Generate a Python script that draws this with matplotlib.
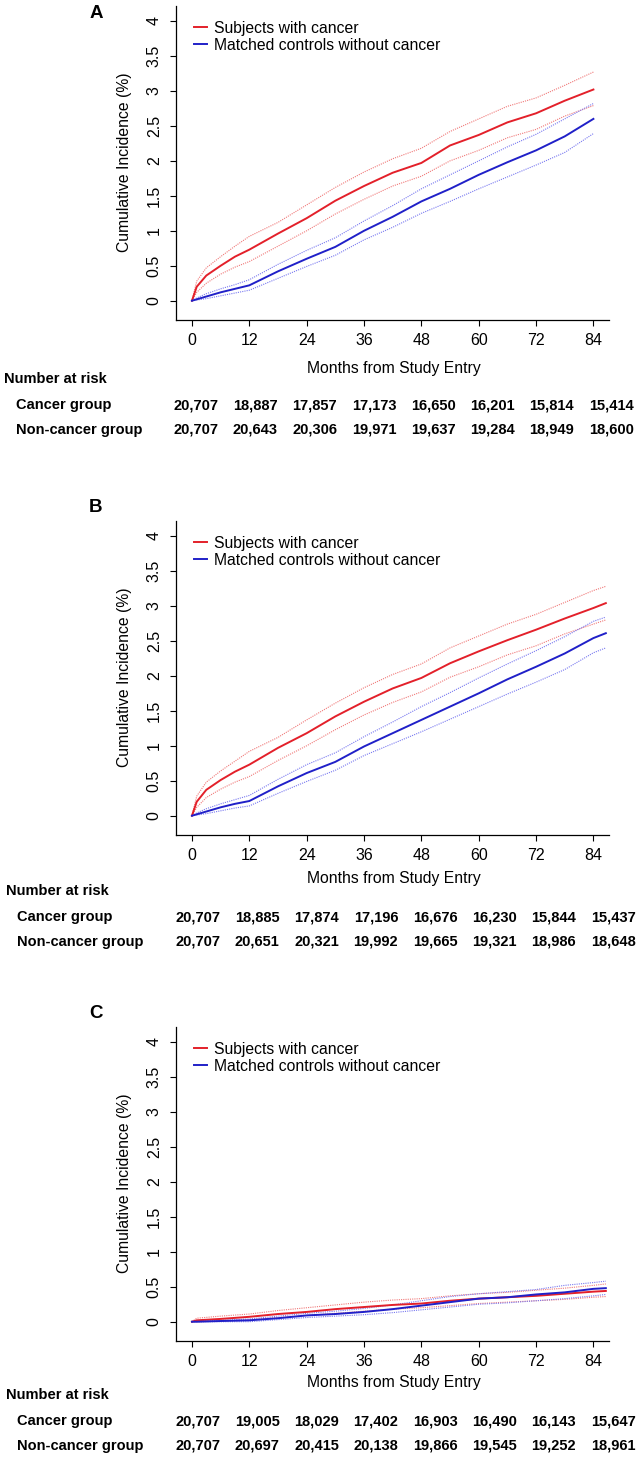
import matplotlib
matplotlib.use("Agg")
import matplotlib.pyplot as plt

plt.rcParams['font.family'] = ['Liberation Sans', 'DejaVu Sans']

W, H = 638, 1458

# ---- data ----
months_ab = [0, 1, 3, 6, 9, 12, 18, 24, 30, 36, 42, 48, 54, 60, 66, 72, 78, 84]
months_b = months_ab + [86.6]
months_c = [0, 1, 6, 12, 18, 24, 30, 36, 42, 48, 54, 60, 66, 72, 78, 84, 86.6]

a_red = [0, 0.2, 0.36, 0.5, 0.63, 0.73, 0.96, 1.18, 1.43, 1.64, 1.83, 1.97, 2.22, 2.37, 2.55, 2.68, 2.86, 3.02]
a_red_hi = [0, 0.28, 0.47, 0.63, 0.78, 0.92, 1.12, 1.37, 1.62, 1.84, 2.03, 2.18, 2.42, 2.6, 2.78, 2.9, 3.08, 3.27]
a_red_lo = [0, 0.12, 0.25, 0.38, 0.48, 0.56, 0.78, 1.0, 1.24, 1.45, 1.64, 1.78, 2.0, 2.15, 2.33, 2.45, 2.64, 2.79]
a_blue = [0, 0.02, 0.06, 0.12, 0.17, 0.22, 0.42, 0.6, 0.77, 1.0, 1.2, 1.42, 1.6, 1.8, 1.98, 2.15, 2.35, 2.6]
a_blue_hi = [0, 0.04, 0.1, 0.17, 0.23, 0.3, 0.52, 0.72, 0.9, 1.14, 1.36, 1.6, 1.8, 2.0, 2.2, 2.38, 2.6, 2.82]
a_blue_lo = [0, 0.01, 0.03, 0.07, 0.11, 0.15, 0.32, 0.49, 0.65, 0.87, 1.05, 1.25, 1.42, 1.6, 1.77, 1.94, 2.12, 2.39]

b_red = [0, 0.2, 0.37, 0.51, 0.63, 0.73, 0.97, 1.18, 1.42, 1.63, 1.82, 1.97, 2.18, 2.35, 2.51, 2.66, 2.82, 2.97, 3.04]
b_red_hi = [0, 0.28, 0.48, 0.64, 0.78, 0.92, 1.12, 1.37, 1.61, 1.83, 2.02, 2.17, 2.4, 2.57, 2.74, 2.88, 3.05, 3.22, 3.28]
b_red_lo = [0, 0.12, 0.26, 0.38, 0.48, 0.56, 0.79, 1.0, 1.23, 1.44, 1.62, 1.77, 1.98, 2.13, 2.3, 2.43, 2.6, 2.74, 2.8]
b_blue = [0, 0.02, 0.06, 0.12, 0.17, 0.21, 0.42, 0.61, 0.77, 0.99, 1.18, 1.37, 1.56, 1.75, 1.95, 2.13, 2.32, 2.54, 2.61]
b_blue_hi = [0, 0.04, 0.1, 0.17, 0.23, 0.29, 0.52, 0.73, 0.9, 1.13, 1.34, 1.56, 1.76, 1.97, 2.17, 2.36, 2.56, 2.78, 2.84]
b_blue_lo = [0, 0.01, 0.03, 0.07, 0.11, 0.14, 0.32, 0.49, 0.65, 0.86, 1.03, 1.2, 1.38, 1.56, 1.74, 1.91, 2.09, 2.33, 2.4]

c_red = [0, 0.02, 0.04, 0.07, 0.11, 0.14, 0.18, 0.21, 0.24, 0.26, 0.3, 0.33, 0.35, 0.37, 0.4, 0.43, 0.44]
c_red_hi = [0, 0.05, 0.08, 0.11, 0.16, 0.2, 0.24, 0.28, 0.31, 0.33, 0.37, 0.4, 0.42, 0.45, 0.48, 0.52, 0.54]
c_red_lo = [0, 0.0, 0.01, 0.03, 0.06, 0.09, 0.12, 0.15, 0.18, 0.2, 0.23, 0.26, 0.28, 0.3, 0.32, 0.35, 0.36]
c_blue = [0, 0.0, 0.01, 0.02, 0.05, 0.09, 0.11, 0.14, 0.18, 0.23, 0.28, 0.33, 0.35, 0.39, 0.42, 0.47, 0.48]
c_blue_hi = [0, 0.01, 0.02, 0.04, 0.08, 0.12, 0.15, 0.19, 0.24, 0.3, 0.36, 0.4, 0.43, 0.46, 0.52, 0.56, 0.58]
c_blue_lo = [0, 0.0, 0.0, 0.0, 0.03, 0.06, 0.08, 0.1, 0.13, 0.17, 0.21, 0.25, 0.27, 0.3, 0.33, 0.37, 0.39]

xticks = [0, 12, 24, 36, 48, 60, 72, 84]
yticks = [0, 0.5, 1, 1.5, 2, 2.5, 3, 3.5, 4]
yticklabels = ['0', '0.5', '1', '1.5', '2', '2.5', '3', '3.5', '4']
legend_labels = ['Subjects with cancer', 'Matched controls without cancer']
row_labels = ['Cancer group', 'Non-cancer group']

a_risk_cancer = ['20,707', '18,887', '17,857', '17,173', '16,650', '16,201', '15,814', '15,414']
a_risk_ctrl = ['20,707', '20,643', '20,306', '19,971', '19,637', '19,284', '18,949', '18,600']
b_risk_cancer = ['20,707', '18,885', '17,874', '17,196', '16,676', '16,230', '15,844', '15,437']
b_risk_ctrl = ['20,707', '20,651', '20,321', '19,992', '19,665', '19,321', '18,986', '18,648']
c_risk_cancer = ['20,707', '19,005', '18,029', '17,402', '16,903', '16,490', '16,143', '15,647']
c_risk_ctrl = ['20,707', '20,697', '20,415', '20,138', '19,866', '19,545', '19,252', '18,961']

RED = '#e3202a'
BLUE = '#2020c8'
RED_CI = '#f07878'
BLUE_CI = '#7878f0'

XL = (-3.4, 87.2)
YL = (-0.27, 4.22)

fig = plt.figure(figsize=(W / 100, H / 100), dpi=100)


def fx(x):
    return x / W


def fy(y):
    return 1 - y / H


def panel(letter, top, t0, months, red, red_hi, red_lo, blue, blue_hi, blue_lo,
          risk_cancer, risk_ctrl, nx0, lab_y, nar_y, row_y, nar_x, row_x):
    left, w, h = 175.7, 433, 314
    ax = fig.add_axes([fx(left), fy(top + h), w / W, h / H])
    ax.plot(months, red_hi, color=RED_CI, lw=0.8, ls=(0, (1, 1)))
    ax.plot(months, red_lo, color=RED_CI, lw=0.8, ls=(0, (1, 1)))
    ax.plot(months, blue_hi, color=BLUE_CI, lw=0.8, ls=(0, (1, 1)))
    ax.plot(months, blue_lo, color=BLUE_CI, lw=0.8, ls=(0, (1, 1)))
    l1, = ax.plot(months, red, color=RED, lw=1.4)
    l2, = ax.plot(months, blue, color=BLUE, lw=1.4)
    ax.set_xlim(*XL)
    ax.set_ylim(*YL)
    ax.set_xticks(xticks)
    ax.set_yticks(yticks)
    ax.set_yticklabels(yticklabels, rotation=90, va='center')
    ax.tick_params(length=4, width=0.8, labelsize=11.5, pad=6)
    for s in ['top', 'right']:
        ax.spines[s].set_visible(False)
    for s in ['left', 'bottom']:
        ax.spines[s].set_linewidth(0.9)
    ax.legend([l1, l2], legend_labels, loc='upper left', bbox_to_anchor=(0.042, 0.951),
              frameon=False, fontsize=11.3, handlelength=0.85, handletextpad=0.4,
              labelspacing=0.1, borderpad=0, borderaxespad=0)
    fig.text(fx(125), fy(top + h / 2), 'Cumulative Incidence (%)', rotation=90,
             ha='center', va='center', fontsize=11.3)
    fig.text(fx(96), fy(t0), letter, ha='center', va='center', fontsize=13.5, fontweight='bold')
    fig.text(fx(394), fy(lab_y), 'Months from Study Entry', ha='center', va='center', fontsize=11.3)
    fig.text(fx(nar_x), fy(nar_y), 'Number at risk', ha='left', va='center',
             fontsize=10.5, fontweight='bold')
    for j, (lab, vals) in enumerate(zip(row_labels, [risk_cancer, risk_ctrl])):
        fig.text(fx(row_x), fy(row_y[j]), lab, ha='left', va='center',
                 fontsize=10.5, fontweight='bold')
        for i, v in enumerate(vals):
            fig.text(fx(nx0 + 59.3 * i), fy(row_y[j]), v, ha='center', va='center',
                     fontsize=10.5, fontweight='bold')
    return ax


panel('A', 5.6, 13.5, months_ab, a_red, a_red_hi, a_red_lo, a_blue, a_blue_hi, a_blue_lo,
      a_risk_cancer, a_risk_ctrl, 196, 368, 379, [405, 430], 4, 16)
panel('B', 520.6, 508, months_b, b_red, b_red_hi, b_red_lo, b_blue, b_blue_hi, b_blue_lo,
      b_risk_cancer, b_risk_ctrl, 198, 879, 891, [917, 942], 6, 17)
panel('C', 1026.6, 1014, months_c, c_red, c_red_hi, c_red_lo, c_blue, c_blue_hi, c_blue_lo,
      c_risk_cancer, c_risk_ctrl, 198, 1383, 1395, [1421, 1446], 6, 17)

fig.savefig('out.png', dpi=100)
